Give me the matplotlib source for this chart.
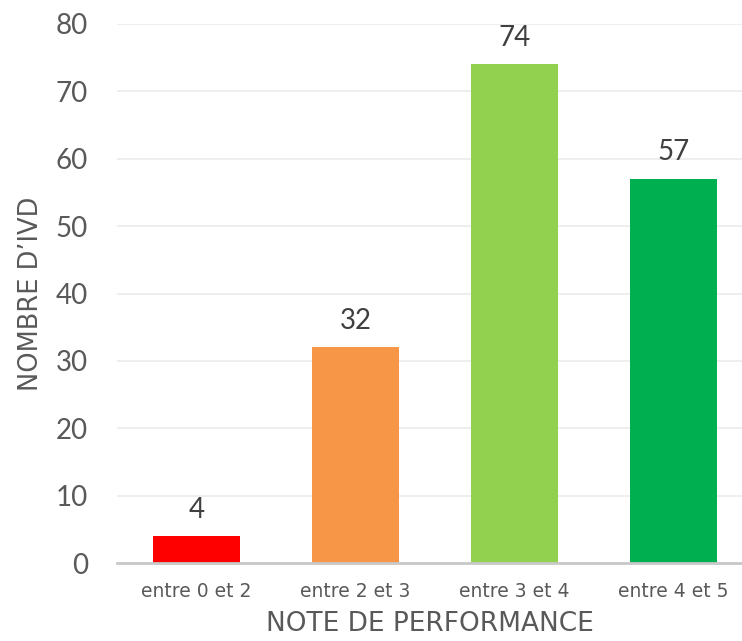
import matplotlib
matplotlib.use("Agg")
import matplotlib.pyplot as plt

categories = ["entre 0 et 2", "entre 2 et 3", "entre 3 et 4", "entre 4 et 5"]
values = [4, 32, 74, 57]
colors = ["#FF0000", "#F79646", "#92D050", "#00B050"]
yticks = [0, 10, 20, 30, 40, 50, 60, 70, 80]

fig = plt.figure(figsize=(7.42, 6.41), dpi=100)
ax = fig.add_axes([117/742, (641-563)/641, (742-117)/742, (563-24)/641])

x = list(range(len(categories)))
bars = ax.bar(x, values, width=0.55, color=colors, zorder=3)
for xi, v in zip(x, values):
    ax.text(xi, v + 2.0, str(v), ha="center", va="bottom", fontsize=20,
            family="Lato", color="#404040")

ax.set_xlim(-0.5, 3.43)
ax.set_ylim(0, 80)
ax.set_yticks(yticks)
ax.set_yticklabels([str(t) for t in yticks], fontsize=20, family="Lato", color="#595959")
ax.set_xticks(x)
ax.set_xticklabels(categories, fontsize=13.5, color="#595959")
ax.tick_params(axis="both", length=0)
ax.tick_params(axis="y", pad=21)
ax.tick_params(axis="x", pad=14)
ax.yaxis.grid(True, color="#EBEBEB", linewidth=1.2, zorder=0)
for s in ["top", "right", "left"]:
    ax.spines[s].set_visible(False)
ax.spines["bottom"].set_color("#C8C8C8")
ax.spines["bottom"].set_linewidth(2)
ax.spines["bottom"].set_zorder(4)

ax.set_xlabel("NOTE DE PERFORMANCE", fontsize=19, color="#595959", labelpad=7)
ax.set_ylabel("NOMBRE D\u2019IVD", fontsize=18.5, color="#595959", labelpad=8)

fig.savefig("out.png", dpi=100)
